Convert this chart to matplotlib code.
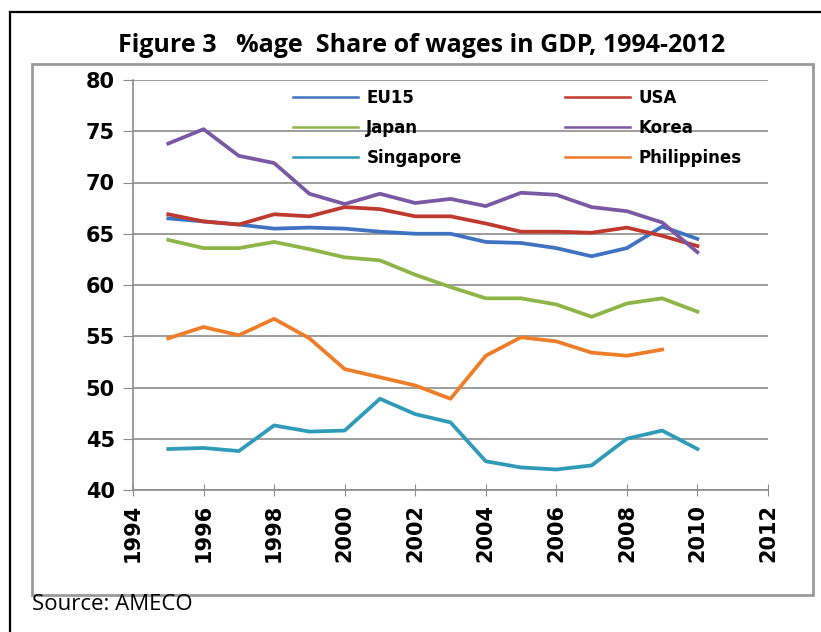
import matplotlib.pyplot as plt
from matplotlib.lines import Line2D
from matplotlib.patches import Rectangle

years = list(range(1995, 2011))

eu15 = [66.5, 66.2, 65.9, 65.5, 65.6, 65.5, 65.2, 65.0, 65.0, 64.2, 64.1, 63.6, 62.8, 63.6, 65.7, 64.5]
usa = [66.9, 66.2, 65.9, 66.9, 66.7, 67.6, 67.4, 66.7, 66.7, 66.0, 65.2, 65.2, 65.1, 65.6, 64.8, 63.8]
japan = [64.4, 63.6, 63.6, 64.2, 63.5, 62.7, 62.4, 61.0, 59.8, 58.7, 58.7, 58.1, 56.9, 58.2, 58.7, 57.4]
korea = [73.8, 75.2, 72.6, 71.9, 68.9, 67.9, 68.9, 68.0, 68.4, 67.7, 69.0, 68.8, 67.6, 67.2, 66.1, 63.2]
singapore = [44.0, 44.1, 43.8, 46.3, 45.7, 45.8, 48.9, 47.4, 46.6, 42.8, 42.2, 42.0, 42.4, 45.0, 45.8, 44.0]
philippines = [54.8, 55.9, 55.1, 56.7, 54.8, 51.8, 51.0, 50.2, 48.9, 53.1, 54.9, 54.5, 53.4, 53.1, 53.7]

# legend fills column by column: left column first, then right column
series = [
    ("EU15", eu15, "#3f72c0"),
    ("Japan", japan, "#8db548"),
    ("Singapore", singapore, "#2f9bb8"),
    ("USA", usa, "#c0392f"),
    ("Korea", korea, "#7a58a4"),
    ("Philippines", philippines, "#ee7d2a"),
]

W, H = 821, 632
fig = plt.figure(figsize=(W / 100, H / 100), dpi=100)

# outer black frame (left and top only visible)
fig.add_artist(Line2D([10 / W, 10 / W], [0, 1 - 12 / H], color="black", lw=1.6, transform=fig.transFigure))
fig.add_artist(Line2D([10 / W, 1], [1 - 12 / H, 1 - 12 / H], color="black", lw=1.6, transform=fig.transFigure))

# grey chart box
fig.add_artist(Rectangle((32 / W, 1 - 595 / H), (813 - 32) / W, (595 - 64) / H,
                         fill=False, edgecolor="#9a9a9a", lw=2, transform=fig.transFigure))

fig.text(422 / W, 1 - 45 / H, "Figure 3   %age  Share of wages in GDP, 1994-2012",
         ha="center", va="center", fontsize=18, fontweight="bold", family="Open Sans")
fig.text(32 / W, 1 - 605 / H, "Source: AMECO", ha="left", va="center", fontsize=16, family="Open Sans")

ax = fig.add_axes([133 / W, 1 - 490 / H, (768 - 133) / W, (490 - 80) / H])
for name, vals, col in series:
    ax.plot(years[:len(vals)], vals, color=col, lw=2.7, label=name, solid_joinstyle="round")

ax.set_xlim(1994, 2012)
ax.set_ylim(40, 80)
ax.set_xticks(range(1994, 2013, 2))
ax.set_yticks(range(40, 81, 5))
ax.yaxis.grid(True, color="#8c8c8c", lw=1.2)
ax.set_axisbelow(True)
for s in ("top", "right"):
    ax.spines[s].set_visible(False)
for s in ("left", "bottom"):
    ax.spines[s].set_color("#8c8c8c")
    ax.spines[s].set_linewidth(1.2)
ax.tick_params(axis="y", length=7, color="#8c8c8c", labelsize=15, pad=6)
ax.tick_params(axis="x", direction="inout", length=8, color="#8c8c8c", labelsize=15,
               labelrotation=90, pad=6)
for lab in ax.get_xticklabels() + ax.get_yticklabels():
    lab.set_fontweight("bold")

leg = ax.legend(loc="upper left", bbox_to_anchor=(293 / W, 1 - 89 / H), bbox_transform=fig.transFigure,
                ncol=2, frameon=False, borderpad=0, borderaxespad=0, handlelength=3.9,
                handletextpad=0.5, labelspacing=0.72, columnspacing=6.2,
                prop={"weight": "bold", "size": 12})
for h in leg.get_lines():
    h.set_linewidth(1.8)

fig.savefig("out.png", dpi=100)
